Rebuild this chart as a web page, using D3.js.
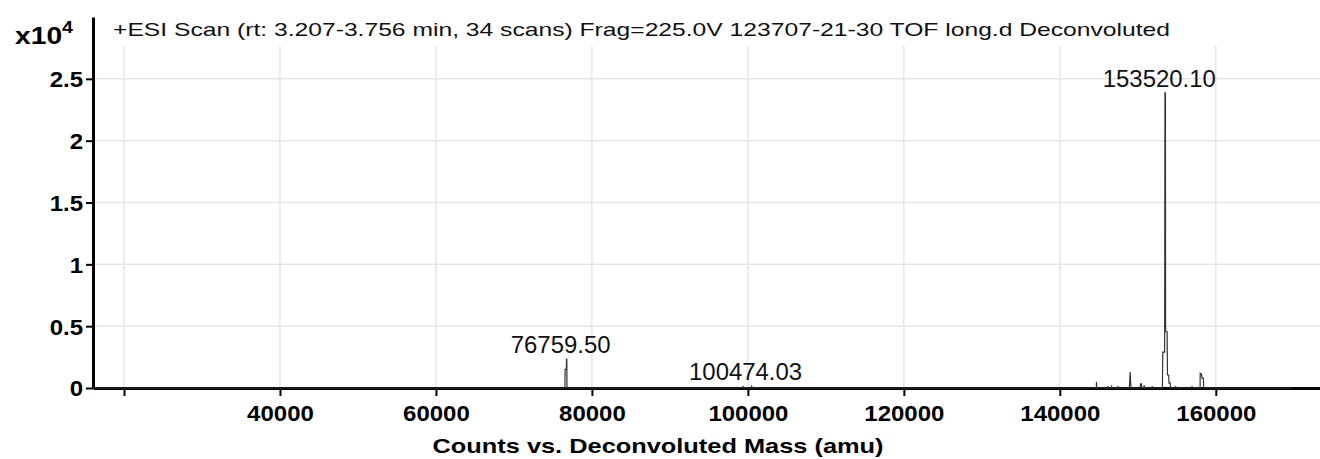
<!DOCTYPE html>
<html>
<head>
<meta charset="utf-8">
<script src="https://cdn.jsdelivr.net/npm/d3@7"></script>
<style>
  body { margin: 0; background: #fff; }
  text { font-family: "Liberation Sans", Arial, sans-serif; }
</style>
</head>
<body>
<div id="chart"></div>
<script>
// spectrum profile (mass in amu, counts)
var masses = [16000,
  76540, 76560, 76720, 76740, 76780, 76800,
  99380, 99400, 99420, 100450, 100474, 100500,
  144680, 144700, 144720, 146100, 146150, 146200, 146600, 146650, 146700, 147400, 147450, 147500,
  148900, 148950, 149020, 149080, 149150,
  150300, 150350, 150450, 150500, 150750, 150800, 150900, 151800, 151850, 151900,
  153150, 153200, 153440, 153480, 153540, 153560, 153760, 153800, 153950, 154000, 154150, 154200,
  154800, 154850, 154900, 156900, 156950, 157000,
  157980, 158000, 158150, 158250, 158400, 158450,
  169900];
var counts = [0,
  0, 1500, 1500, 2330, 2330, 0,
  0, 180, 0, 0, 200, 0,
  0, 500, 0, 0, 150, 0, 0, 120, 0, 0, 150, 0,
  0, 400, 1300, 400, 0,
  0, 330, 330, 0, 0, 200, 0, 0, 150, 0,
  0, 2900, 2900, 23870, 23870, 4550, 4550, 1050, 1050, 400, 400, 0,
  0, 150, 0, 0, 150, 0,
  0, 1200, 1150, 800, 800, 0,
  0];

var peakMasses = [76759.50, 100474.03, 153520.10];
var peakLabels = ["76759.50", "100474.03", "153520.10"];
var peakCounts = [2330, 200, 23870];

var xTicks = [20000, 40000, 60000, 80000, 100000, 120000, 140000, 160000];
var yTicks = [0, 0.5, 1, 1.5, 2, 2.5];

var title = "+ESI Scan (rt: 3.207-3.756 min, 34 scans) Frag=225.0V 123707-21-30 TOF long.d Deconvoluted";
var xTitle = "Counts vs. Deconvoluted Mass (amu)";

var width = 1320, height = 459;
var plot = { left: 93, right: 1320, top: 17, bottom: 388 };

var x = d3.scaleLinear().domain([16026, 173360]).range([plot.left, plot.right]);
var y = d3.scaleLinear().domain([0, 3.0]).range([plot.bottom, plot.top]);

var svg = d3.select("#chart").append("svg")
    .attr("width", width)
    .attr("height", height);

// stretch text horizontally (reference glyphs are wide)
function stretch(sel, k) {
  sel.each(function() {
    var w = this.getComputedTextLength();
    if (w > 0) {
      d3.select(this)
        .attr("textLength", w * k)
        .attr("lengthAdjust", "spacingAndGlyphs");
    }
  });
}

// grid
svg.append("g").selectAll("line.gy")
  .data(yTicks)
  .enter().append("line")
  .attr("x1", plot.left).attr("x2", plot.right)
  .attr("y1", function(d) { return y(d); })
  .attr("y2", function(d) { return y(d); })
  .attr("stroke", "#e6e6e6").attr("stroke-width", 1.5);

svg.append("g").selectAll("line.gx")
  .data(xTicks)
  .enter().append("line")
  .attr("x1", function(d) { return x(d); })
  .attr("x2", function(d) { return x(d); })
  .attr("y1", 46).attr("y2", plot.bottom)
  .attr("stroke", "#e6e6e6").attr("stroke-width", 1.5);

// axes
var axisX = d3.axisBottom(x)
  .tickValues(xTicks)
  .tickSize(8)
  .tickSizeOuter(0)
  .tickPadding(9)
  .tickFormat(function(d) { return d == 20000 ? "" : d; });
var groupX = svg.append("g")
  .attr("transform", "translate(0," + plot.bottom + ")")
  .call(axisX);

var axisY = d3.axisLeft(y)
  .tickValues(yTicks)
  .tickSize(7)
  .tickSizeOuter(0)
  .tickPadding(3)
  .tickFormat(function(d) { return d; });
var groupY = svg.append("g")
  .attr("transform", "translate(" + plot.left + ",0)")
  .call(axisY);

[groupX, groupY].forEach(function(g) {
  g.select(".domain").attr("stroke", "#000").attr("stroke-width", 3);
  g.selectAll(".tick line").attr("stroke", "#000").attr("stroke-width", 2);
  g.selectAll(".tick text")
    .attr("fill", "#000")
    .attr("font-size", 22)
    .attr("font-weight", "bold")
    .attr("font-family", "Liberation Sans, Arial, sans-serif");
  stretch(g.selectAll(".tick text"), 1.09);
});
groupY.selectAll(".tick text").attr("dy", "0.36em");

// spectrum trace
var pts = masses.map(function(m, i) { return [m, counts[i] / 10000]; });
var line = d3.line()
  .x(function(d) { return x(d[0]); })
  .y(function(d) { return y(d[1]); });

svg.append("path")
  .datum(pts)
  .attr("d", line)
  .attr("fill", "none")
  .attr("stroke", "#333")
  .attr("stroke-width", 1.2)
  .attr("stroke-linejoin", "miter");

// peak labels
var labels = svg.append("g").selectAll("text")
  .data(peakMasses)
  .enter().append("text")
  .attr("x", function(d) { return x(d) - 6; })
  .attr("y", function(d, i) { return y(peakCounts[i] / 10000) - 6; })
  .attr("text-anchor", "middle")
  .attr("font-size", 23)
  .attr("fill", "#111")
  .text(function(d, i) { return peakLabels[i]; });
stretch(labels, 1.04);

// title and scale
var titleText = svg.append("text")
  .attr("x", 113).attr("y", 36)
  .attr("font-size", 19)
  .attr("fill", "#111")
  .text(title);
stretch(titleText, 1057 / titleText.node().getComputedTextLength());

var mult = svg.append("text")
  .attr("x", 15).attr("y", 44)
  .attr("font-size", 23)
  .attr("font-weight", "bold")
  .attr("textLength", 58)
  .attr("lengthAdjust", "spacingAndGlyphs");
mult.append("tspan").text("x10");
mult.append("tspan").attr("dy", -11).attr("font-size", 16).text("4");

var xTitleText = svg.append("text")
  .attr("x", 658).attr("y", 453)
  .attr("text-anchor", "middle")
  .attr("font-size", 21)
  .attr("font-weight", "bold")
  .text(xTitle);
stretch(xTitleText, 451 / xTitleText.node().getComputedTextLength());
</script>
</body>
</html>
